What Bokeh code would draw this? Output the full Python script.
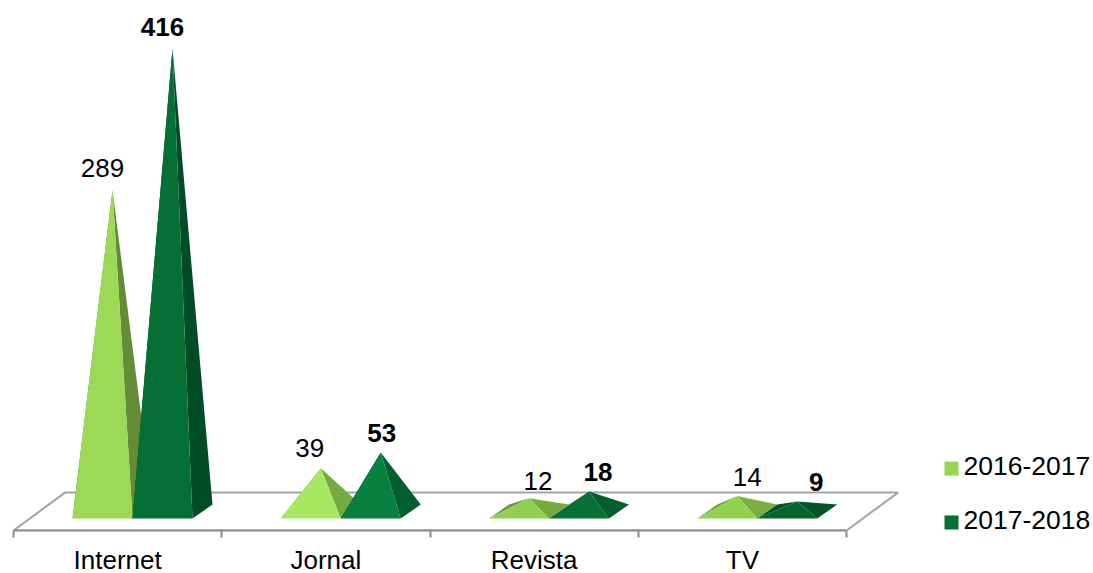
from bokeh.embed import file_html
from bokeh.resources import INLINE
from bokeh.plotting import figure
from bokeh.models import ColumnDataSource, FixedTicker, Label, Range1d
from bokeh.core.properties import value

# ---- data
categories = ["Internet", "Jornal", "Revista", "TV"]
series_names = ["2016-2017", "2017-2018"]
values_2016 = [289, 39, 12, 14]
values_2017 = [416, 53, 18, 9]

# ---- shading of each pyramid (front, right side, left side)
front_2016 = ["#9BD957", "#A6E860", "#8FD052", "#90D150"]
side_2016 = ["#648B36", "#76A93F", "#77AB3E", "#7AAE40"]
left_2016 = ["#648B36", "#76A93F", "#6A9A38", "#6F9F3A"]
front_2017 = ["#066F35", "#088040", "#067035", "#06652F"]
side_2017 = ["#004C24", "#005F2D", "#005F2D", "#005626"]
left_2017 = ["#004C24", "#005F2D", "#005F2D", "#005626"]
legend_colors = ["#93D651", "#066F35"]

# ---- label offsets from the apex, in pixels
label_dx_2016 = [-10, -11, 9, 10]
label_dx_2017 = [-10, 1, 9, 19]
label_dy_2016 = [-22, -20, -17, -19]
label_dy_2017 = [-22, -20, -20, -20]

# ---- scale and projection
W, H = 1093, 577
LEFT, AXIS_PX, BASE_PX = 13, 531, 512
PX_X, PX_Y = 208.25, 1.115
BAR_W = 60 / PX_X
FIRST = 59 / PX_X
DEPTH_X = 20 / PX_X
DEPTH_Y = 7 / PX_Y
FLOOR_X = 51.5 / PX_X
FLOOR_Y = (AXIS_PX - BASE_PX) / PX_Y

p = figure(width=W, height=H, output_backend="svg", toolbar_location=None,
           x_range=Range1d(0, (W - LEFT) / PX_X),
           y_range=Range1d(-(AXIS_PX - BASE_PX) / PX_Y, BASE_PX / PX_Y),
           y_axis_location=None, min_border_left=LEFT, min_border_right=0,
           min_border_top=0, min_border_bottom=H - AXIS_PX,
           outline_line_color=None, background_fill_color="white")
p.grid.visible = False

# floor
n = len(categories)
p.patch([0, n, n + FLOOR_X, FLOOR_X], [-FLOOR_Y, -FLOOR_Y, FLOOR_Y, FLOOR_Y],
        fill_color="white", line_color="#A3A3A3", line_width=2)


def draw(vals, offset, front, side, left):
    xl = [i + FIRST + offset for i in range(n)]
    xr = [x + BAR_W for x in xl]
    apex_x = [x + BAR_W / 2 + DEPTH_X / 2 for x in xl]
    lf = dict(xs=[], ys=[], c=left)
    rf = dict(xs=[], ys=[], c=side)
    ff = dict(xs=[], ys=[], c=front)
    for a, b, ax, v in zip(xl, xr, apex_x, vals):
        lf["xs"].append([a, a + DEPTH_X, ax])
        lf["ys"].append([-DEPTH_Y, DEPTH_Y, v])
        rf["xs"].append([b, b + DEPTH_X, ax])
        rf["ys"].append([-DEPTH_Y, DEPTH_Y, v])
        ff["xs"].append([a, b, ax])
        ff["ys"].append([-DEPTH_Y, -DEPTH_Y, v])
    p.patches("xs", "ys", source=ColumnDataSource(lf), fill_color="c", line_color=None)
    p.patches("xs", "ys", source=ColumnDataSource(rf), fill_color="c", line_color=None)
    p.patches("xs", "ys", source=ColumnDataSource(ff), fill_color="c", line_color=None)
    return apex_x


ax16 = draw(values_2016, 0, front_2016, side_2016, left_2016)
ax17 = draw(values_2017, BAR_W, front_2017, side_2017, left_2017)

# data labels
for ax, vals, dx, dy, style in ((ax16, values_2016, label_dx_2016, label_dy_2016, "normal"),
                                (ax17, values_2017, label_dx_2017, label_dy_2017, "bold")):
    src = ColumnDataSource(dict(x=ax, y=vals, t=[str(v) for v in vals], dx=dx, dy=dy))
    p.text(x="x", y="y", text="t", x_offset="dx", y_offset="dy", source=src,
           text_align="center", text_baseline="alphabetic",
           text_font=value("Liberation Sans"), text_font_size="26px",
           text_font_style=style, text_color="#000000")

# axis
ax = p.xaxis[0]
ax.ticker = FixedTicker(ticks=[i + 0.5 for i in range(n)], minor_ticks=list(range(n + 1)))
ax.major_label_overrides = {i + 0.5: c for i, c in enumerate(categories)}
ax.bounds = (0, n)
ax.axis_line_color = "#8C8C8C"
ax.axis_line_width = 2
ax.major_tick_line_color = None
ax.major_tick_in = 0
ax.major_tick_out = 0
ax.minor_tick_line_color = "#8C8C8C"
ax.minor_tick_line_width = 2
ax.minor_tick_in = 0
ax.minor_tick_out = 7
ax.major_label_standoff = 7
ax.major_label_text_font = "Liberation Sans"
ax.major_label_text_font_size = "26px"
ax.major_label_text_color = "#000000"

# legend: swatches and real text placed through the plot's scales
for name, color, swatch_top, swatch_side in zip(series_names, legend_colors, (462, 516), (14, 14)):
    x0 = (944 - LEFT) / PX_X
    x1 = x0 + swatch_side / PX_X
    top = (BASE_PX - swatch_top) / PX_Y
    bottom = top - swatch_side / PX_Y
    p.quad(left=[x0], right=[x1], top=[top], bottom=[bottom], fill_color=color, line_color=None)
    p.add_layout(Label(x=(963 - LEFT) / PX_X, y=(bottom + top) / 2, text=name,
                       y_offset=3, text_align="left", text_baseline="middle",
                       text_font="Liberation Sans", text_font_size="26.5px",
                       text_color="#000000"))

open("out.html", "w").write(file_html(p, INLINE))
